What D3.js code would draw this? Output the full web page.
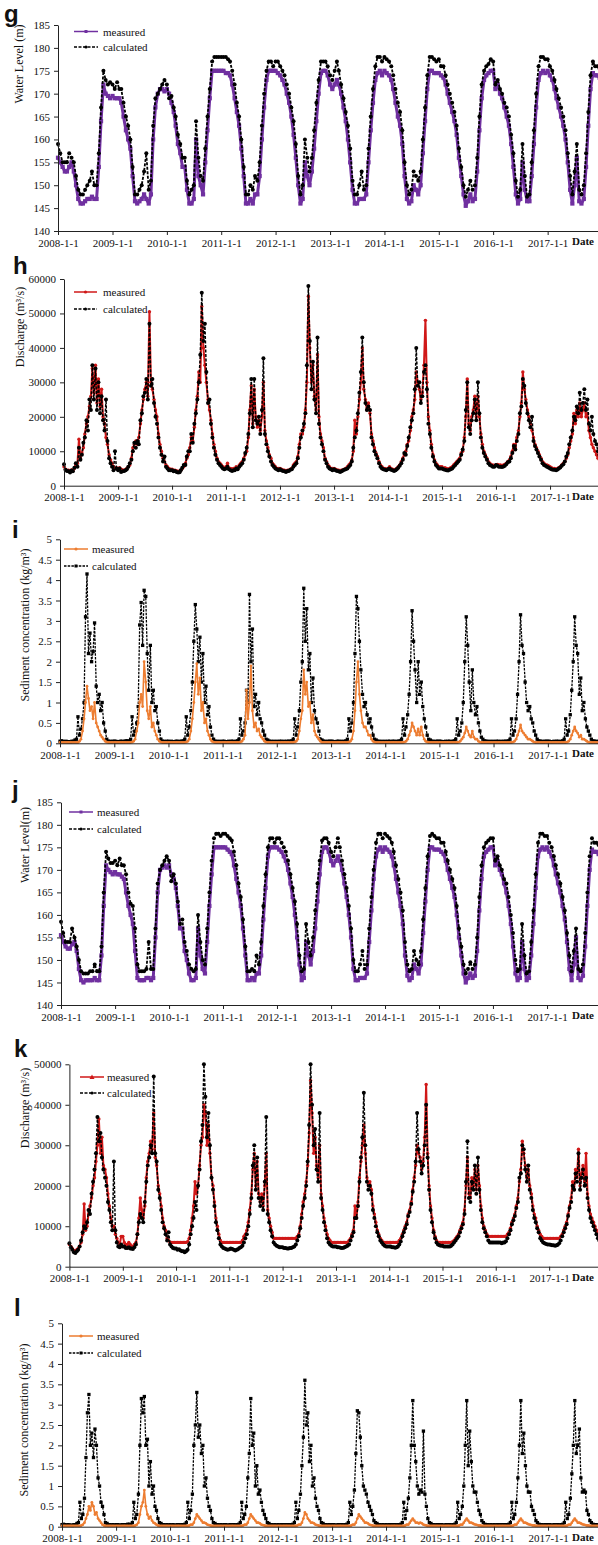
<!DOCTYPE html>
<html>
<head>
<meta charset="utf-8">
<script src="https://cdn.jsdelivr.net/npm/d3@7/dist/d3.min.js"></script>
<style>
  body { margin: 0; background: #fff; }
  svg text { font-family: "Liberation Serif", "Times New Roman", serif; fill: #111; }
  .letter { font-family: "Liberation Sans", Arial, sans-serif !important; font-weight: bold; font-size: 24px; }
</style>
</head>
<body>
<svg id="chart" width="598" height="1545"></svg>
<script>
// x values: half-month steps for water level, 10-day steps for discharge / sediment
const halfMonthDates = [];
const tenDayDates = [];
for (let y = 2008; y < 2018; y++) {
  for (let m = 0; m < 12; m++) {
    [1, 16].forEach(d => halfMonthDates.push(new Date(y, m, d)));
    [1, 11, 21].forEach(d => tenDayDates.push(new Date(y, m, d)));
  }
}
halfMonthDates.push(new Date(2018, 0, 1));
tenDayDates.push(new Date(2018, 0, 1));

const yearTicks = d3.range(2008, 2018).map(y => new Date(y, 0, 1));

// ---- water level (m), panel g ----
const gMeas = [
  [156,155,154,153,153,154, 155,153,150,147,146,146, 146.5,147,147,147.5,147,147, 154,164,172,170,169.5,169],
  [169.5,169,169,169,168,165, 162,160,158,152,146.5,146, 146.5,147,148,147,146,148, 160,167,170,171,171,170.5],
  [171,170,168,166,163,159, 157,154,154,149,146,146, 147,160,152,150,148,155, 162,169,175,175,175,175],
  [175,175,174.5,174.5,174,172, 169,166,163,158,152,146, 146,147,146,148,148,152, 160,167,173,175,175,175],
  [175,174.5,174,173,172,170, 168,165,161,156,150,146, 147,155,152,150,153,158, 164,170,174.5,175,175,174],
  [172,171,172,173,172,170, 167,164,160,155,149,146, 146,147,147,147,148,155, 162,168,173,174.5,175,174],
  [175,174.5,174,173,171,168, 165,163,159,152,147,146, 146.5,150,149,148,150,157, 164,171,175,175,174.5,174.5],
  [174.5,174,173.5,172,170,168, 166,164,161,156,152,148, 145.5,146.5,148,146.5,147,153, 162,169,173,174,174.5,175],
  [175,171,172,170,169,167, 165,163,159,154,148,146, 147,155,149,146.5,146.5,152, 159,167,173,174.5,175,174.5],
  [175,174,173,171,169,167, 165,163,160,155,149,146, 150,156,146.5,146,147,154, 163,171,174.5,174,174,173.5],
  [174]
].flat();
const gCalc = [
  [159,157,155,155,155,157, 156,155,152,149,148,148, 149,150,151,153,150,150, 157,167,175,173,172,172.5],
  [172,171,172.5,171,171,168, 165,163,160,154,148,148, 149,150,153,157,149,151, 163,169,170,171,172,173],
  [172,169,169.5,167,165,161, 159,156,156,151,148,149, 150,164,156,152,151,158, 165,171,177,178,178,178],
  [178,178,178,177.5,177,175, 172,168,165,160,154,148, 148,150,149,152,151,155, 163,170,175,177,177,176],
  [177,177,176,175,174,172, 170,167,164,159,152,148, 150,160,156,153,156,162, 168,173,177,177,177,176],
  [174,173,175,177,175,172, 169,166,163,158,151,148, 148,150,153,149,150,158, 165,171,176,178,178,177],
  [178,177.5,177,176,174,171, 168,166,162,155,150,148, 149,153,152,151,153,160, 167,174,178,178,177.5,177],
  [177.5,176,176,174,172,170, 168,166,163,158,154,150, 147.5,149,151,149,150,156, 165,172,175,176,176.5,177.5],
  [177,172,173,171,170,168, 167,165,161,157,151,147.5, 149,159,152,147.5,148,155, 162,170,176,178,178,177.5],
  [177.5,176,175,173,171,169, 167,165,162,157,152,148, 153,159,149,148,150,157, 166,174,177,176,176,175.5],
  [175.5]
].flat();

// ---- water level (m), panel j ----
const jMeas = [
  [155.5,154,153,152.5,152.5,153.5, 154,152,148,145.5,145,145.5, 145.5,145.5,145.5,146,145.5,145.5, 151,162,171,170,169.5,169],
  [169.5,169,169,168.5,168,165, 162,160,158,152,146,145.5, 145.5,145.5,146,146,145.5,146, 155,165,170,170.5,171,170.5],
  [171,169,168,166,162,157, 157,152,150,147,145.5,145.5, 146,157,151,148,147,154, 162,169,175,175,175,175],
  [175,175,174.5,174,173.5,171, 168,165,162,157,151,145.5, 145.5,146,145.5,147,147,151, 159,166,173,175,175,175],
  [175,174.5,174,173,172,170, 167,164,160,155,149,145.5, 146,154,151,149,152,157, 163,169,174,175,175,174],
  [172,171,172,173,172,170, 167,164,160,155,148,145.5, 145.5,146,146,146,147,154, 161,168,173,174.5,175,174],
  [175,174.5,174,173,171,168, 165,162,158,151,146.5,145.5, 146,149,148,147,149,156, 163,170,175,175,174.5,174.5],
  [174.5,174,173.5,172,170,168, 166,164,160,155,151,147, 145,146,147,146,146.5,152, 161,168,173,174,174.5,175],
  [175,171,172,170,169,167, 165,162,158,153,147,145.5, 146,154,148,145.5,146,151, 158,166,173,174.5,175,174.5],
  [175,174,173,171,169,167, 165,162,159,154,148,145.5, 149,155,146,145.5,146.5,153, 162,170,174.5,174,174,173.5],
  [174]
].flat();
const jCalc = [
  [158.5,156,154,154,154,157, 155,153,150,147.5,147,147, 147,147.5,147.5,149,147.5,147.5, 153,165,174,172.5,171.5,171.5],
  [172,171,172.5,171,171,169, 165,162.5,162,157,149,147.5, 147.5,147.5,148,154,148,148, 157,167,170,171,172,173],
  [172,167.5,169,167,163,158, 159,154,152,149,148,147.5, 148,160,154,150,149,157, 165,172,177,178,178,177.5],
  [178,178,177.5,177,176.5,174, 171,167,164,159,153,147.5, 147.5,148,147.5,151,149,154, 162,169,175,177,177,176],
  [177,177,176,175,174,172, 169,166,163,158,151,147.5, 148,158,154,151,155,161, 167,172,176.5,177,177,176],
  [174,173,175,177,175,172, 169,166,162,157,150,147.5, 147.5,149,152,148,149,157, 164,170,176,178,178,177],
  [178,177.5,177,176,174,171, 168,165,161,154,149,147.5, 148,152,150,149,152,159, 166,173,177.5,178,177.5,177],
  [177,176,176,174,172,170, 168,166,162,157,153,149, 147,148,149.5,148,149,155, 164,171,175,176,176.5,177],
  [177,172,173,171,170,168, 167,164,160,156,150,147.5, 148,158,151,147,147.5,154, 161,169,176,178,178,177.5],
  [177.5,176,175,173,171,169, 167,164,161,156,151,147.5, 152,157,148,147.5,149,156, 165,173,177,176,176,175.5],
  [175.5]
].flat();

// ---- discharge, panel h (read in thousand m3/s) ----
const hMeasK = [
  [5.5,4.8,4.5, 4.5,4.2,4.6, 4.5,5.0,6.0, 6.5,13.5,8.0, 9.5,11,15, 18,20,23, 26,34,27, 35,24,31, 23,28,20, 18,14,12, 9,7.5,6.5, 5.5,5.0,5.2],
  [5.0,5.2,4.8, 4.6,4.5,4.7, 5.0,5.5,6.0, 8,11,12, 13,12,14, 18,22,25, 28,30,26, 50.5,30,28, 25,22,20, 15,12,10, 8,7,6, 5.5,5.0,4.8],
  [4.8,4.5,4.5, 4.3,4.2,4.0, 4.5,5.0,5.5, 6.5,8,9, 11,14,13, 17,22,26, 33,30,52, 40,35,30, 25,22,19, 15,12,10, 8,7,6.5, 6,5.5,5],
  [5.5,6.5,5.0, 5.0,4.8,5.0, 5.0,5.5,5.0, 6,6.5,7, 8,9,10, 14,22,29, 18,28,20, 17,19,16, 20,30,16, 13,11,9, 8,6.5,6, 5.5,5,5],
  [5.0,4.8,4.6, 4.5,4.3,4.5, 4.5,4.8,5.0, 6,6.5,7, 8.5,12,15, 15,17,22, 30,55,40, 30,35,26, 22,38,20, 15,13,11, 8,7,6, 5.5,5,5],
  [5.0,4.8,4.6, 4.5,4.4,4.5, 4.6,4.8,5.0, 5.5,6,6.5, 7.5,10,19, 15,20,25, 30,40,28, 25,22,24, 21,15,13, 11,9.5,8.5, 7,6,5.5, 5,5,4.8],
  [5.0,5.5,5.0, 4.8,4.5,4.8, 5.0,5.5,6.0, 7,8,9, 10,12,13, 16,20,22, 25,33,30, 28,25,27, 35,48,30, 20,16,12, 9,7.5,6.5, 6,5.5,5.5],
  [5.5,5.0,5.2, 5.0,4.8,5.0, 5.2,5.5,6.0, 6.5,7,7.5, 8,9.5,10, 14,20,31, 18,16,20, 22,26,20, 26,20,15, 12,10,9, 8,7,6.5, 6,6,5.8],
  [6.0,6.2,6.0, 6.0,5.8,6.0, 6.2,6.5,7.0, 7.5,8.5,10, 12,11,14, 16,20,24, 33,28,25, 22,20,18, 16,14,12, 11,10,9, 8,7,6.5, 6,6,5.8],
  [5.5,5.2,5.0, 5.0,4.8,5.0, 5.2,5.5,6.0, 6.5,7,8, 9,11,13, 15,21,18, 22,20,24, 20,22,24, 20,21,16, 14,12,11, 10,9,8, 7.5,7,6.5],
  [6.0]
].flat();
const hCalcK = [
  [6.2,4.6,4.3, 4.2,3.8,4.4, 4.2,5.2,6.5, 5.5,11,7.5, 9,12.5,14, 19,16,25, 22,35,25, 34,22,30, 21,26,19, 16,25,13, 8,6.5,5.5, 4.5,10,5],
  [4.5,5.0,4.0, 4.2,4.3,4.5, 4.8,5.5,6.5, 7.5,10,12.5, 11,13,12, 19,21,26, 27,31,25, 47,29,31, 24,20,18, 14,11,9, 7,8.5,5.5, 5,4.5,4.5],
  [4.5,4.2,4.3, 4.0,3.8,3.9, 4.5,5.2,6.0, 6,8.5,10, 10,15,12.5, 18,21,25, 30,38,56, 42,47,33, 24,25,18, 14,11,9, 7.5,6.5,6, 5.5,5,4.8],
  [5.0,5.5,4.8, 4.5,4.3,4.5, 4.5,5.0,4.8, 5.5,6,6.5, 7.5,9.5,11, 15,21,31, 17,31,19, 18,20,15, 22,37,15, 12,10,8.5, 7,6,5.5, 5,4.8,4.5],
  [4.8,4.5,4.3, 4.2,4.0,4.3, 4.3,4.6,4.8, 5.5,6,6.5, 8,11,14, 16,18,21, 35,58,42, 28,36,25, 21,43,18, 14,12,10, 7.5,6.5,5.5, 5,4.8,4.5],
  [4.8,4.5,4.3, 4.2,4.0,4.2, 4.4,4.6,4.8, 5,5.5,6, 7,11,14, 16,21,27, 33,43,30, 24,22,23, 22,14,12, 10,9,8, 6.5,5.5,5, 4.8,4.6,4.5],
  [4.8,5.0,4.6, 4.5,4.3,4.5, 4.8,5.2,5.8, 6.5,7.5,9.5, 9,11.5,14, 17,19,21, 28,40,29, 30,24,26, 33,35,28, 18,15,11, 8.5,7,6, 5.5,5,5],
  [5.0,4.8,4.6, 4.5,4.4,4.6, 4.8,5.0,5.5, 6,6.5,7, 7.5,9,10.5, 13,22,30, 17,15,19, 21,25,19, 30,21,14, 11,9.5,8.5, 7.5,6.5,6, 5.8,5.5,5.5],
  [6.0,5.8,5.5, 5.5,5.4,5.6, 5.8,6.2,6.8, 7,8,9.5, 11.5,10.5,13, 15,21,23, 31,29,24, 21,19,17, 20,13,11.5, 10.5,9.5,8.5, 7.5,6.5,6, 5.8,5.5,5.3],
  [5.0,4.8,4.6, 4.6,4.5,4.7, 5.0,5.3,5.8, 6.2,7,8.5, 9.5,12,14, 16,20,19, 23,21,27, 22,24,28, 22,25,18, 16,20,15, 13,12,10, 9,8,7],
  [6.5]
].flat();

// ---- discharge, panel k (thousand m3/s) ----
const kMeasK = [
  [5.5,5.0,4.5, 4.0,3.8,4.2, 4.5,5.0,6.0, 8,15.5,9, 10,13,15, 17,20,22, 26,30,36.5, 28,32,25, 24,22,18, 15,12,10, 10,8,7, 6,5.5,7.5],
  [7.5,6.0,5.5, 5.5,6.0,5.5, 5.0,5.0,5.5, 6,8,12, 17,14,12, 15,22,26, 28,31,29, 38,27,25, 20,18,15, 12,10,9, 7,6.5,6, 6,6,6],
  [6,6,6, 6,6,6, 6,6,6.2, 7,9,12, 15,21,18, 20,25,30, 32,40,38, 30,35,28, 22,20,16, 12,10,8, 6.5,6,6, 6,6,6],
  [6,6,6, 6,6,6, 6,6,6, 6.5,7.5,8, 9,11,14, 18,24,28, 20,26,18, 16,18,15, 20,28,14, 12,10,8.5, 7,7,7, 7,7,7],
  [7,7,7, 7,7,7, 7,7,7, 7,7.5,8, 10,13,16, 18,21,25, 33,46,38, 28,32,25, 22,30,18, 15,12,10, 8,7,6.5, 6,6,6],
  [6,6,6, 6,6,6, 6,6,6, 6.5,7,8, 9,15,12, 16,22,26, 30,35,28, 22,20,21, 19,15,13, 11,9,8, 7,6.5,6, 6,6,6],
  [6,6,6, 6,6,6, 6,6.5,7, 8,9,10, 11,13,14, 16,19,22, 25,30,28, 27,24,26, 32,45,28, 20,15,12, 9,7.5,6.5, 6,6,6],
  [6,6,6, 6,6,6, 6,6.2,6.5, 7,7.5,8, 9,10,11, 14,20,27, 18,17,22, 20,24,19, 25,20,15, 12,10,9, 8,7.5,7.5, 7.5,7.5,7.5],
  [7.5,7.5,7.5, 7.5,7.5,7.5, 7.5,7.5,8, 8.5,9.5,11, 12,13,15, 17,21,24, 31,28,25, 22,24,20, 18,15,13, 12,10,9, 8,7.5,7, 7,7,7],
  [7,7,7, 7,7,7, 7,7,7.5, 8,9,10, 11,13,15, 17,21,19, 24,22,29, 20,23,25, 21,28,18, 15,13,12, 11,10,9, 8,7.5,7],
  [6.5]
].flat();
const kCalcK = [
  [5.8,4.8,4.2, 3.6,3.4,3.8, 4.2,5.0,6.5, 8.5,10,9.5, 11,14,13, 18,21,24, 28,37,31, 33,27,24, 22,20,16, 14,11,9, 26,9,6, 5,4.8,5.5],
  [5.0,5.0,4.6, 4.6,4.8,4.5, 4.5,4.4,4.8, 5.5,8,11, 13,12,11, 16,21,25, 27,30,28, 47,28,26, 19,17,14, 11,9.5,8, 6.5,8.5,5.5, 5,4.6,4.5],
  [4.5,4.2,4.3, 4.0,3.8,3.8, 3.6,3.8,4.2, 5.5,8,10, 12,16,14, 20,24,31, 35,50,42, 32,38,30, 22,19,15, 11,9,7, 5.5,5,4.6, 4.5,4.3,4.2],
  [4.3,4.5,4.4, 4.2,4.0,4.2, 4.3,4.6,4.8, 5.2,6,7, 8,10,13, 17,25,30, 19,27,17, 15,17,14, 21,37,13, 11,9,7.5, 6,5.5,5.2, 5,4.8,4.8],
  [4.8,4.6,4.6, 4.5,4.5,4.6, 4.6,4.8,5.0, 5.5,6.5,7.5, 9.5,12,15, 17,20,26, 35,50,40, 30,34,24, 21,38,17, 14,11,9, 7,6,5.5, 5.2,5,5],
  [5.0,4.8,4.8, 4.7,4.6,4.7, 4.8,5.0,5.2, 5.5,6.5,7.5, 8.5,12,12, 15,21,27, 32,43,30, 21,19,20, 18,14,12, 10,8.5,7.5, 6.5,6,5.5, 5.2,5,5],
  [5.0,5.0,4.8, 4.8,4.7,4.8, 5.0,5.5,6.2, 7.5,8.5,9.5, 10.5,12.5,13.5, 15.5,18.5,21, 26,38,29, 26,23,25, 30,40,27, 19,14,11, 8.5,7,6, 5.5,5.3,5.2],
  [5.2,5.0,5.0, 5.0,5.0,5.0, 5.2,5.5,6.0, 6.5,7,7.5, 8.5,9.5,10.5, 13,21,31, 17,16,21, 19,25,18, 27,19,14, 11,9.5,8.5, 7.5,6.5,6, 6,6,6],
  [6.0,6.0,6.0, 6.0,5.8,6.0, 6.0,6.3,7.0, 8,9,10.5, 11.5,12.5,14.5, 16,22,23, 30,29,24, 21,25,19, 17,14,12, 11,9.5,8.5, 7,6.5,6, 5.8,5.6,5.5],
  [5.5,5.4,5.3, 5.3,5.2,5.3, 5.4,5.8,6.5, 7.5,8.5,9.5, 10.5,12.5,14.5, 16,20,19, 23,21,28, 19,22,24, 20,22,17, 14,12,11, 10,9,8, 7,6.5,6],
  [5.8]
].flat();

// ---- sediment concentration (kg/m3), panel i ----
const iMeas = [
  [.02,.02,.02,.02,.02,.02,.02,.02,.02,.02,.02,.02, .02,.05,.1, .3,.6,1.0, 1.4,1.1,.8, .9,.6,1.0, .5,.4,.3, .2,.15,.1, .05,.03,.02, .02,.02,.02],
  [.02,.02,.02,.02,.02,.02,.02,.02,.02,.02,.02,.02, .03,.05,.1, .3,.5,1.0, 1.2,.9,2.0, 1.5,.8,.6, .9,.4,.5, .3,.2,.1, .05,.03,.02, .02,.02,.02],
  [.02,.02,.02,.02,.02,.02,.02,.02,.02,.02,.02,.02, .03,.05,.1, .3,.6,1.0, 1.5,1.95,1.2, 1.6,.8,1.0, .5,.6,.3, .2,.1,.05, .03,.02,.02, .02,.02,.02],
  [.02,.02,.02,.02,.02,.02,.02,.02,.02,.02,.02,.02, .03,.05,.1, .2,1.3,.6, 1.0,1.9,.8, .4,.5,.3, .35,.2,.15, .1,.05,.03, .02,.02,.02, .02,.02,.02],
  [.02,.02,.02,.02,.02,.02,.02,.02,.02,.02,.02,.02, .03,.05,.1, .3,.6,.8, 1.8,1.2,1.5, .9,1.0,.5, .7,.3,.2, .15,.1,.05, .02,.02,.02, .02,.02,.02],
  [.02,.02,.02,.02,.02,.02,.02,.02,.02,.02,.02,.02, .03,.05,.1, .3,.8,1.5, 2.0,1.2,.8, .5,.4,.4, .3,.2,.2, .1,.05,.03, .02,.02,.02, .02,.02,.02],
  [.02,.02,.02,.02,.02,.02,.02,.02,.02,.02,.02,.02, .02,.03,.05, .1,.2,.3, .5,.4,.3, .2,.35,.2, .4,.2,.1, .05,.03,.02, .02,.02,.02, .02,.02,.02],
  [.02,.02,.02,.02,.02,.02,.02,.02,.02,.02,.02,.02, .02,.03,.05, .1,.15,.25, .4,.3,.2, .15,.3,.15, .1,.1,.05, .03,.02,.02, .02,.02,.02, .02,.02,.02],
  [.02,.02,.02,.02,.02,.02,.02,.02,.02,.02,.02,.02, .02,.03,.05, .1,.2,.3, .45,.3,.25, .2,.15,.1, .1,.08,.05, .03,.02,.02, .02,.02,.02, .02,.02,.02],
  [.02,.02,.02,.02,.02,.02,.02,.02,.02,.02,.02,.02, .02,.03,.05, .1,.2,.3, .4,.3,.25, .15,.2,.1, .1,.08,.05, .03,.02,.02, .02,.02,.02, .02,.02,.02],
  [.02]
].flat();
const iCalc = [
  [.05,.06,.05,.04,.05,.04,.04,.03,.05,.05,.08,.1, .65,.2,.35, .6,1.0,3.1, 4.15,2.2,2.7, 2.0,2.25,2.95, 1.4,1.0,1.2, .8,1.0,.5, .3,.1,.05, .05,.04,.05],
  [.05,.05,.04,.04,.05,.05,.04,.05,.06,.06,.05,.1, .65,.2,.3, .5,.9,2.9, 3.45,2.4,3.75, 3.6,2.2,1.3, 2.4,1.0,1.3, .8,.9,.5, .3,.1,.05, .05,.04,.05],
  [.05,.04,.05,.04,.04,.05,.05,.04,.05,.05,.06,.1, .65,.2,.4, .8,1.5,2.5, 3.4,2.8,2.0, 2.6,1.5,2.2, 1.0,1.4,.7, .9,.4,.2, .1,.05,.05, .04,.05,.04],
  [.05,.05,.04,.04,.05,.04,.05,.05,.04,.05,.06,.1, .6,.2,.3, .5,1.3,1.0, 3.65,2.0,2.8, .9,1.2,.7, 1.0,.6,.5, .3,.2,.1, .08,.05,.05, .04,.05,.04],
  [.05,.04,.05,.05,.04,.05,.04,.05,.05,.05,.06,.1, .6,.2,.4, .8,1.5,2.0, 3.8,2.5,3.3, 1.8,2.2,1.0, 1.6,.8,.6, .5,.3,.1, .08,.05,.05, .04,.05,.05],
  [.05,.05,.04,.04,.05,.05,.04,.05,.04,.05,.06,.1, .6,.3,.5, 1.0,2.2,3.6, 3.3,2.5,1.8, 1.2,.9,1.0, .7,.5,.6, .4,.2,.1, .08,.05,.05, .04,.05,.04],
  [.05,.04,.05,.05,.04,.05,.05,.04,.05,.05,.06,.1, .6,.2,.4, .7,1.2,2.0, 3.25,2.5,1.8, 1.0,2.0,1.2, 1.5,.9,.6, .4,.2,.1, .08,.05,.05, .04,.05,.05],
  [.05,.05,.04,.04,.05,.04,.05,.05,.04,.05,.06,.1, .6,.2,.3, .5,1.0,2.0, 3.1,2.4,1.5, .8,1.8,1.0, .7,.9,.5, .3,.15,.1, .06,.05,.05, .04,.05,.04],
  [.05,.04,.05,.05,.04,.05,.04,.05,.05,.05,.06,.1, .6,.2,.3, .6,1.2,2.0, 3.15,2.4,2.2, 1.5,1.0,.8, .9,.6,.5, .3,.2,.1, .06,.05,.05, .04,.05,.05],
  [.05,.05,.04,.04,.05,.04,.05,.05,.04,.05,.06,.1, .6,.2,.3, .7,1.3,2.0, 3.1,2.4,2.2, 1.2,1.6,.8, 1.0,.6,.4, .3,.2,.1, .06,.05,.05, .04,.05,.04],
  [.05]
].flat();

// ---- sediment concentration (kg/m3), panel l ----
const lMeas = [
  [.02,.02,.02,.02,.02,.02,.02,.02,.02,.02,.02,.02, .02,.03,.05, .1,.2,.3, .5,.4,.6, .5,.3,.35, .2,.15,.1, .05,.03,.02, .02,.02,.02, .02,.02,.02],
  [.02,.02,.02,.02,.02,.02,.02,.02,.02,.02,.02,.02, .02,.03,.05, .1,.3,.5, .6,.9,.5, .3,.2,.25, .15,.1,.08, .05,.03,.02, .02,.02,.02, .02,.02,.02],
  [.02,.02,.02,.02,.02,.02,.02,.02,.02,.02,.02,.02, .02,.03,.05, .05,.1,.2, .3,.25,.2, .15,.1,.1, .08,.05,.04, .03,.02,.02, .02,.02,.02, .02,.02,.02],
  [.02,.02,.02,.02,.02,.02,.02,.02,.02,.02,.02,.02, .02,.03,.05, .05,.1,.2, .3,.25,.2, .15,.1,.1, .08,.05,.04, .03,.02,.02, .02,.02,.02, .02,.02,.02],
  [.02,.02,.02,.02,.02,.02,.02,.02,.02,.02,.02,.02, .02,.03,.05, .05,.1,.2, .35,.3,.2, .15,.1,.1, .08,.05,.04, .03,.02,.02, .02,.02,.02, .02,.02,.02],
  [.02,.02,.02,.02,.02,.02,.02,.02,.02,.02,.02,.02, .02,.03,.05, .05,.1,.2, .3,.25,.2, .15,.1,.1, .08,.05,.04, .03,.02,.02, .02,.02,.02, .02,.02,.02],
  [.02,.02,.02,.02,.02,.02,.02,.02,.02,.02,.02,.02, .02,.03,.05, .05,.1,.15, .2,.15,.1, .1,.08,.1, .08,.05,.04, .03,.02,.02, .02,.02,.02, .02,.02,.02],
  [.02,.02,.02,.02,.02,.02,.02,.02,.02,.02,.02,.02, .02,.03,.05, .05,.1,.15, .2,.15,.1, .1,.08,.06, .05,.04,.03, .03,.02,.02, .02,.02,.02, .02,.02,.02],
  [.02,.02,.02,.02,.02,.02,.02,.02,.02,.02,.02,.02, .02,.03,.05, .05,.1,.15, .2,.15,.1, .1,.08,.06, .05,.04,.03, .03,.02,.02, .02,.02,.02, .02,.02,.02],
  [.02,.02,.02,.02,.02,.02,.02,.02,.02,.02,.02,.02, .02,.03,.05, .05,.1,.15, .2,.15,.1, .1,.08,.06, .05,.04,.03, .03,.02,.02, .02,.02,.02, .02,.02,.02],
  [.02]
].flat();
const lCalc = [
  [.05,.06,.05,.04,.05,.04,.04,.03,.05,.05,.08,.1, .6,.2,.3, .7,1.7,2.8, 3.25,2.0,2.3, 1.7,2.4,2.0, 1.2,1.0,.6, .5,.3,.1, .08,.05,.05, .04,.05,.04],
  [.05,.05,.04,.04,.05,.05,.04,.05,.06,.06,.05,.1, .6,.2,.3, .8,2.0,3.15, 2.8,3.2,2.0, 2.15,1.0,1.6, .8,1.0,.5, .4,.2,.1, .08,.05,.05, .04,.05,.04],
  [.05,.04,.05,.04,.04,.05,.05,.04,.05,.05,.06,.1, .6,.2,.4, .8,2.0,2.5, 3.3,2.2,2.5, 1.8,2.0,1.0, 1.2,.7,.5, .4,.2,.1, .08,.05,.05, .04,.05,.04],
  [.05,.05,.04,.04,.05,.04,.05,.05,.04,.05,.06,.1, .6,.2,.3, .5,1.2,1.8, 3.15,2.0,2.3, 1.0,1.5,.8, .9,.6,.4, .3,.2,.1, .08,.05,.05, .04,.05,.04],
  [.05,.04,.05,.05,.04,.05,.04,.05,.05,.05,.06,.1, .6,.2,.4, .8,1.5,2.2, 3.6,2.5,2.8, 1.6,2.0,1.0, 1.2,.7,.5, .4,.2,.1, .08,.05,.05, .04,.05,.05],
  [.05,.05,.04,.04,.05,.05,.04,.05,.04,.05,.06,.1, .6,.3,.5, .9,1.8,2.85, 2.8,2.2,1.5, 1.0,.9,.8, .6,.5,.4, .3,.15,.1, .08,.05,.05, .04,.05,.04],
  [.05,.04,.05,.05,.04,.05,.05,.04,.05,.05,.06,.1, .6,.2,.4, .7,1.2,2.0, 3.1,2.0,1.6, 1.0,.8,.9, .85,2.35,.8, .5,.2,.1, .08,.05,.05, .04,.05,.05],
  [.05,.05,.04,.04,.05,.04,.05,.05,.04,.05,.06,.1, .6,.2,.3, .5,1.0,2.0, 3.1,1.5,2.35, 1.6,1.0,.85, .85,.6,.4, .3,.15,.1, .06,.05,.05, .04,.05,.04],
  [.05,.04,.05,.05,.04,.05,.04,.05,.05,.05,.06,.1, .6,.2,.3, .6,1.2,2.0, 3.1,1.8,2.3, 1.5,1.0,.85, .85,.5,.4, .3,.15,.1, .06,.05,.05, .04,.05,.05],
  [.05,.05,.04,.04,.05,.04,.05,.05,.04,.05,.06,.1, .6,.2,.3, .7,1.3,2.0, 3.1,1.8,2.0, 2.4,1.2,.85, .9,.85,.4, .3,.15,.1, .06,.05,.05, .04,.05,.04],
  [.05]
].flat();

const hMeas = hMeasK.map(v => v * 1000);
const hCalc = hCalcK.map(v => v * 1000);
const kMeas = kMeasK.map(v => v * 1000);
const kCalc = kCalcK.map(v => v * 1000);

const svg = d3.select("#chart");

// look of each kind of panel (daily data in the original -> thick bands, so lines are heavy here)
const styles = {
  level: {
    meas: { color: "#7030A0", width: 3, marker: "square", size: 4.2 },
    calc: { color: "#000", width: 1.8, dash: "3,1.5", marker: "circle", size: 2 },
    measFirst: true
  },
  flow: {
    meas: { color: "#D01818", width: 2, marker: "circle", size: 1.7 },
    calc: { color: "#000", width: 1.5, dash: "3,1.5", marker: "circle", size: 2 },
    measFirst: true
  },
  sed: {
    meas: { color: "#ED7D31", width: 1.6, marker: "circle", size: 1.4 },
    calc: { color: "#000", width: 1.3, dash: "2.5,1.2", marker: "square", size: 3.3 },
    measFirst: false
  }
};

class TimePanel {

  constructor(_config, _meas, _calc) {
    this.config = _config;
    this.meas = _meas;
    this.calc = _calc;
    this.initVis();
  }

  initVis() {
    let vis = this;
    const c = vis.config;
    const st = styles[c.kind];

    vis.x = d3.scaleTime()
      .domain([new Date(2008, 0, 1), new Date(2018, 0, 1)])
      .range([c.left, c.left + 10 * c.pxYear]);
    vis.y = d3.scaleLinear()
      .domain(c.yDomain)
      .range([c.bottom, c.top]);

    vis.g = svg.append("g");

    // panel letter
    vis.g.append("text")
      .attr("class", "letter")
      .attr("x", c.letterX)
      .attr("y", c.letterY)
      .text(c.letter);

    // series first, axes on top
    const series = [
      { values: vis.meas, s: st.meas },
      { values: vis.calc, s: st.calc }
    ];
    if (!st.measFirst) series.reverse();
    series.forEach(d => vis.drawSeries(d.values, d.s, c.dates));

    const xAxis = vis.g.append("g")
      .attr("transform", `translate(0,${c.bottom})`)
      .call(d3.axisBottom(vis.x)
        .tickValues(yearTicks)
        .tickFormat(d3.timeFormat("%Y-%-m-%-d"))
        .tickSize(4)
        .tickSizeOuter(0)
        .tickPadding(4));
    const yAxis = vis.g.append("g")
      .attr("transform", `translate(${c.left},0)`)
      .call(d3.axisLeft(vis.y)
        .tickValues(c.yTicks)
        .tickFormat(d3.format(""))
        .tickSize(4)
        .tickSizeOuter(0)
        .tickPadding(4));
    [xAxis, yAxis].forEach(a => {
      a.attr("font-family", null).attr("font-size", null);
      a.selectAll("text").style("font-size", "11px").attr("fill", "#111");
      a.selectAll("line, path").attr("stroke", "#222");
    });

    // axis name, squeezed in at the right edge
    vis.g.append("text")
      .attr("x", 572)
      .attr("y", c.bottom + 14)
      .style("font-size", "11px")
      .style("font-weight", "bold")
      .text("Date");

    // y title
    vis.g.append("text")
      .attr("transform", `translate(${c.titleX},${c.titleY}) rotate(-90)`)
      .attr("text-anchor", "middle")
      .attr("dominant-baseline", "central")
      .style("font-size", "12px")
      .text(c.title);

    // legend
    const lg = c.legend;
    [["measured", st.meas, lg.y], ["calculated", st.calc, lg.y + lg.gap]].forEach(([label, s, ly]) => {
      vis.g.append("line")
        .attr("x1", lg.x1).attr("x2", lg.x2)
        .attr("y1", ly).attr("y2", ly)
        .attr("stroke", s.color)
        .attr("stroke-width", Math.min(s.width, 1.5))
        .attr("stroke-dasharray", s.dash || null);
      vis.marker(vis.g, (lg.x1 + lg.x2) / 2, ly, label === "measured" && c.legendShape ? c.legendShape : s.marker,
        { color: s.color, size: s.marker === "square" ? 3 : 1.6 });
      vis.g.append("text")
        .attr("x", lg.tx)
        .attr("y", ly + 4)
        .style("font-size", "11px")
        .text(label);
    });
  }

  drawSeries(values, s, dates) {
    let vis = this;
    const pts = dates.map((d, i) => ({ date: d, v: values[i] })).filter(d => d.v !== undefined);
    const line = d3.line()
      .x(d => vis.x(d.date))
      .y(d => vis.y(d.v));
    vis.g.append("path")
      .datum(pts)
      .attr("fill", "none")
      .attr("stroke", s.color)
      .attr("stroke-width", s.width)
      .attr("stroke-linejoin", "round")
      .attr("stroke-dasharray", s.dash || null)
      .attr("d", line);
    const mg = vis.g.append("g");
    pts.forEach(d => vis.marker(mg, vis.x(d.date), vis.y(d.v), s.marker, s));
  }

  marker(parent, cx, cy, shape, s) {
    if (shape === "square") {
      parent.append("rect")
        .attr("x", cx - s.size / 2).attr("y", cy - s.size / 2)
        .attr("width", s.size).attr("height", s.size)
        .attr("fill", s.color);
    } else if (shape === "triangle") {
      parent.append("path")
        .attr("d", `M${cx},${cy - 2.5}L${cx + 2.5},${cy + 2}L${cx - 2.5},${cy + 2}Z`)
        .attr("fill", s.color);
    } else {
      parent.append("circle")
        .attr("cx", cx).attr("cy", cy).attr("r", s.size)
        .attr("fill", s.color);
    }
  }
}

const levelTicks = d3.range(140, 186, 5);
const sedTicks = d3.range(0, 5.01, 0.5).map(v => +v.toFixed(1));

new TimePanel({ kind: "level", letter: "g", letterX: 4, letterY: 22, top: 25, bottom: 231, left: 58, pxYear: 54.4,
  yDomain: [140, 185], yTicks: levelTicks, dates: halfMonthDates,
  title: "Water Level (m)", titleX: 19, titleY: 64,
  legend: { x1: 74, x2: 98, y: 31.5, tx: 103, gap: 15.5 } }, gMeas, gCalc);

new TimePanel({ kind: "flow", letter: "h", letterX: 13, letterY: 274, top: 279, bottom: 485.7, left: 64, pxYear: 54.0,
  yDomain: [0, 60000], yTicks: d3.range(0, 60001, 10000), dates: tenDayDates,
  title: "Discharge (m³/s)", titleX: 20, titleY: 327,
  legend: { x1: 74, x2: 97, y: 292, tx: 103, gap: 17 } }, hMeas, hCalc);

new TimePanel({ kind: "sed", letter: "i", letterX: 12, letterY: 538, top: 539.3, bottom: 743.3, left: 60, pxYear: 54.2,
  yDomain: [0, 5], yTicks: sedTicks, dates: tenDayDates,
  title: "Sediment concentration (kg/m³)", titleX: 25, titleY: 625,
  legend: { x1: 64, x2: 88, y: 549, tx: 92, gap: 17 } }, iMeas, iCalc);

new TimePanel({ kind: "level", letter: "j", letterX: 12, letterY: 798, top: 802.3, bottom: 1005, left: 61, pxYear: 54.0,
  yDomain: [140, 185], yTicks: levelTicks, dates: halfMonthDates,
  title: "Water Level(m)", titleX: 25, titleY: 845,
  legend: { x1: 69, x2: 93, y: 812, tx: 97, gap: 17 } }, jMeas, jCalc);

new TimePanel({ kind: "flow", letter: "k", letterX: 14, letterY: 1057, top: 1064.3, bottom: 1266.7, left: 69.4, pxYear: 53.3,
  yDomain: [0, 50000], yTicks: d3.range(0, 50001, 10000), dates: tenDayDates, legendShape: "triangle",
  title: "Discharge (m³/s)", titleX: 25, titleY: 1108,
  legend: { x1: 80, x2: 104, y: 1077, tx: 107, gap: 16 } }, kMeas, kCalc);

new TimePanel({ kind: "sed", letter: "l", letterX: 14, letterY: 1316, top: 1323.3, bottom: 1526.7, left: 62, pxYear: 54.0,
  yDomain: [0, 5], yTicks: sedTicks, dates: tenDayDates,
  title: "Sediment concentration (kg/m³)", titleX: 24, titleY: 1420,
  legend: { x1: 69, x2: 93, y: 1336, tx: 97, gap: 17 } }, lMeas, lCalc);
</script>
</body>
</html>
